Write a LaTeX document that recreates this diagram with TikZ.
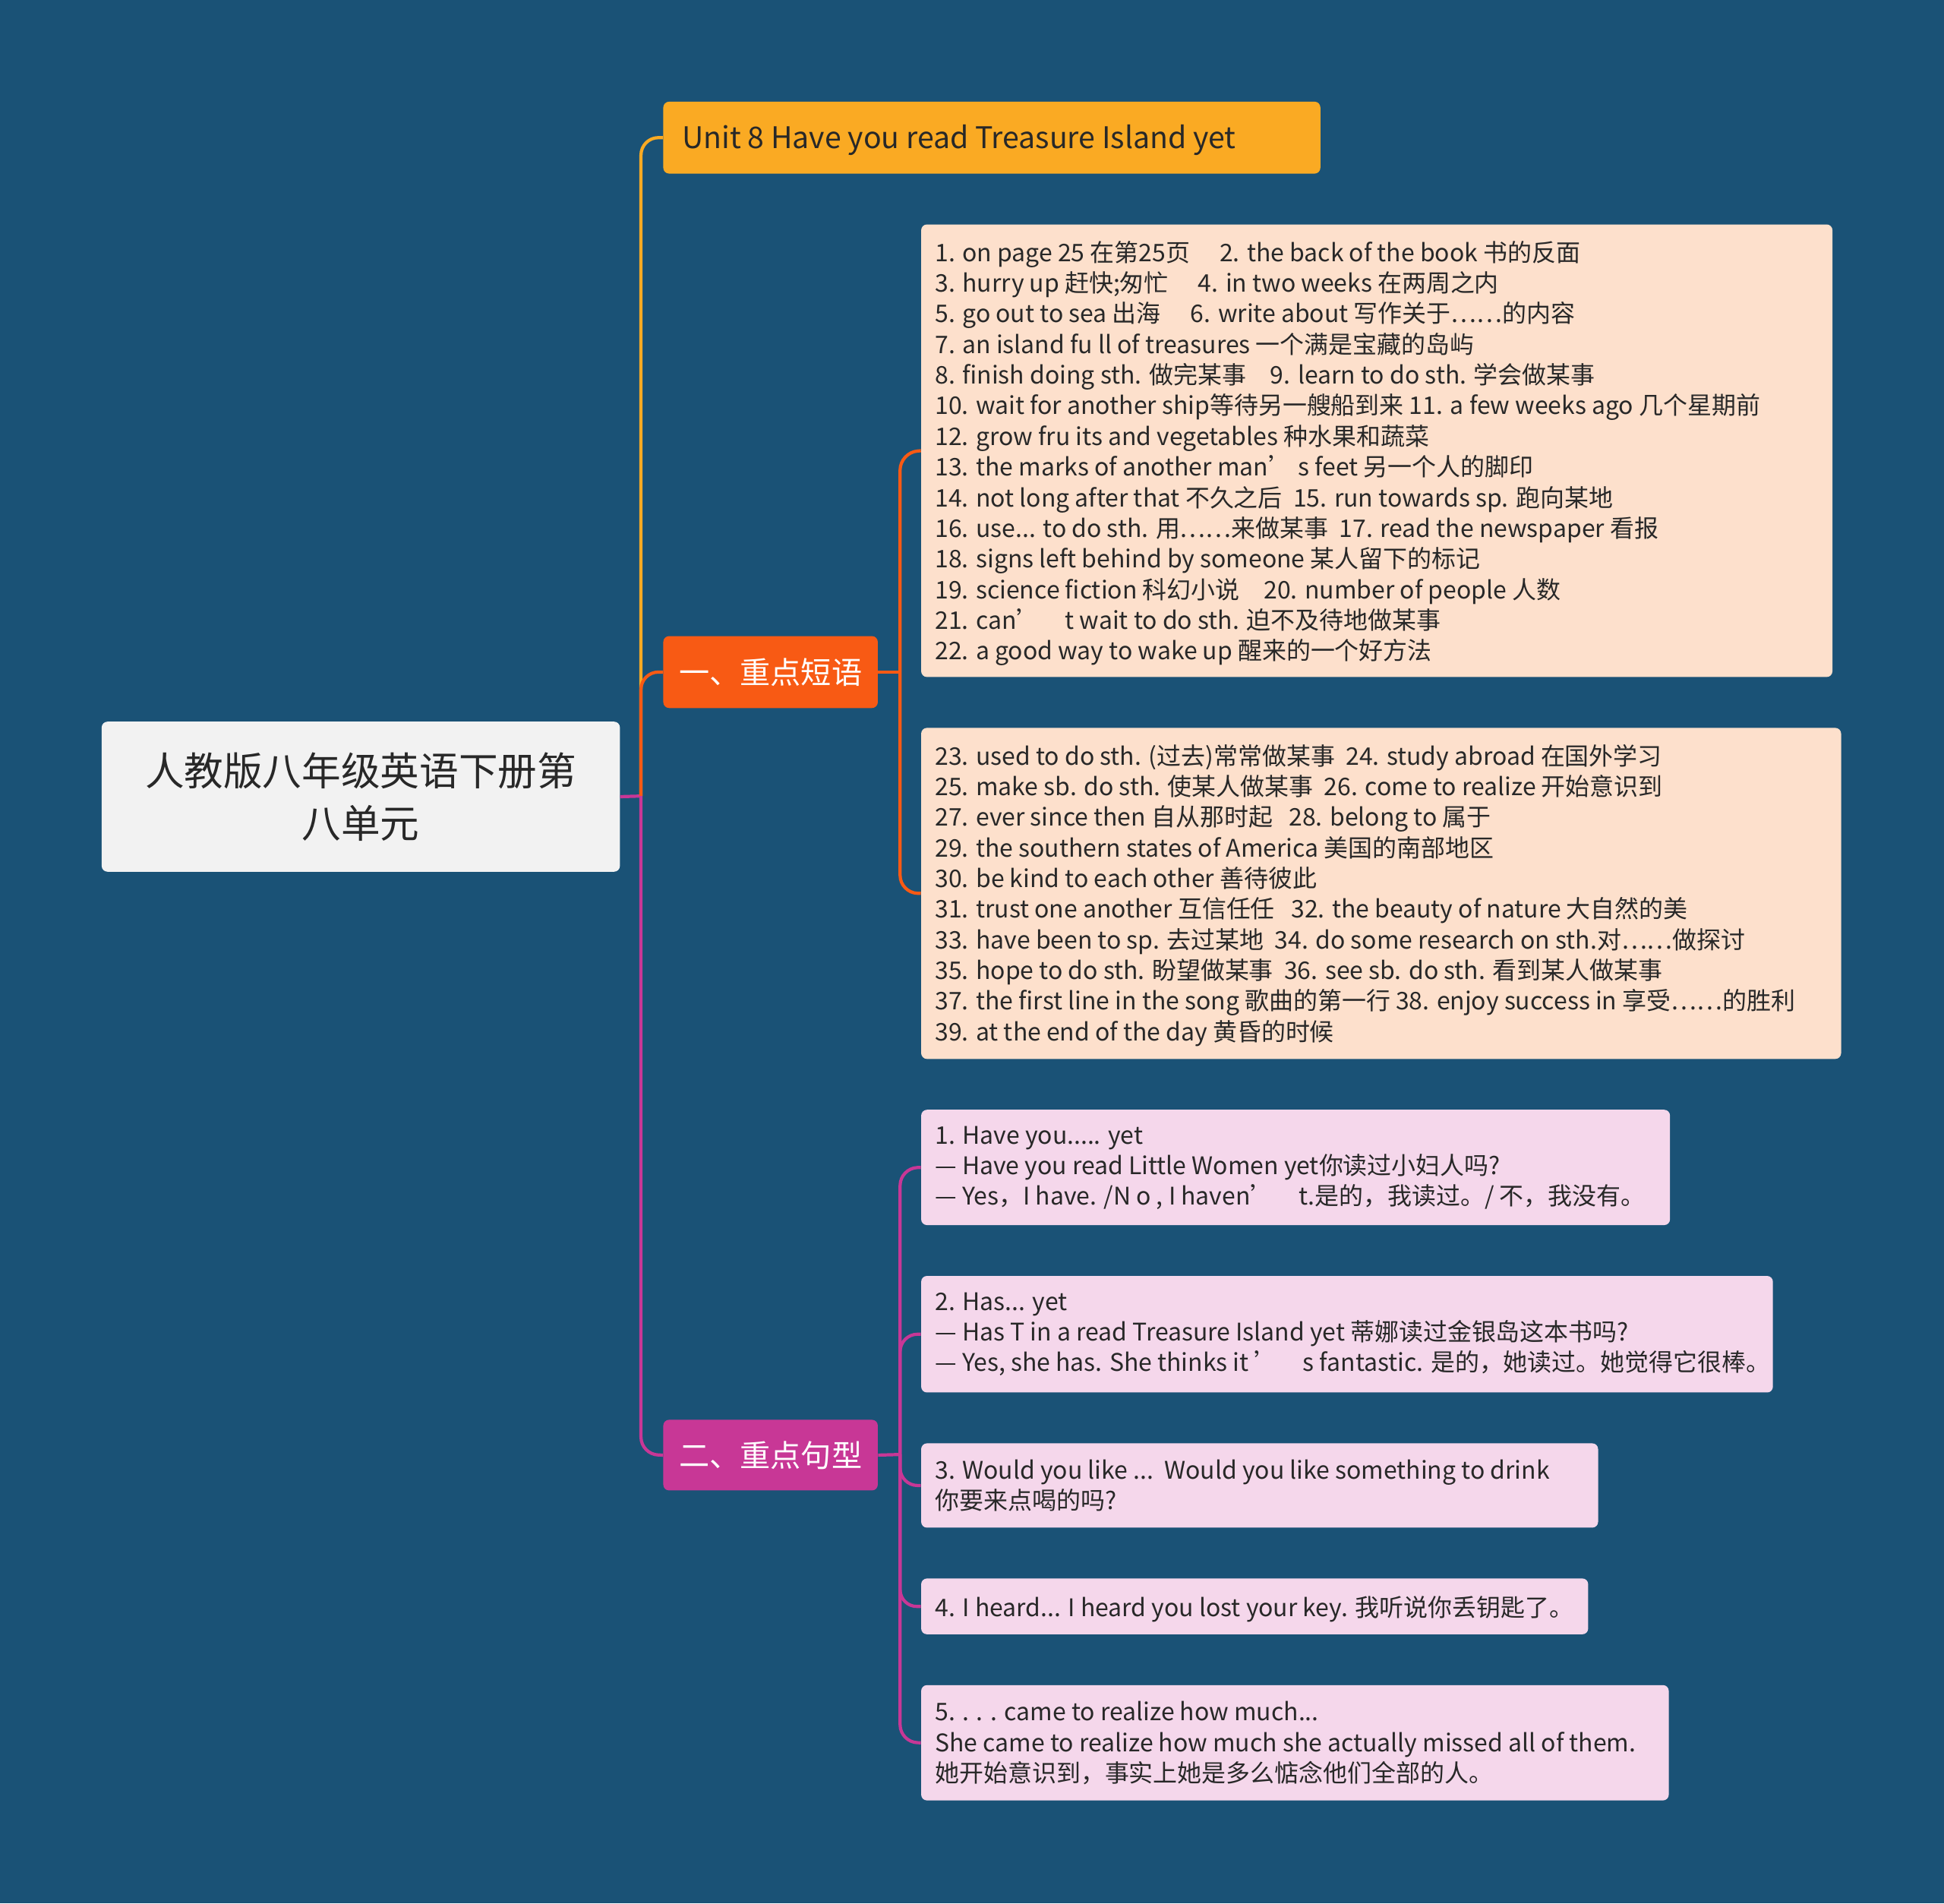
\documentclass[tikz,border=0pt]{standalone}
\usepackage{fontspec}
\setmainfont{Noto Sans CJK SC}
\usetikzlibrary{fit}
\definecolor{bg}{RGB}{26,82,118}
\definecolor{cT}{RGB}{250,170,35}
\definecolor{cA}{RGB}{248,90,20}
\definecolor{cB}{RGB}{200,55,150}
\definecolor{lA}{RGB}{253,224,204}
\definecolor{lB}{RGB}{245,215,235}
\definecolor{tx}{RGB}{40,40,40}
\tikzset{x=0.03cm,y=-0.03cm,
 bx/.style={inner sep=0,rounded corners=4pt},
 tt/.style={anchor=north west,inner sep=0,align=left,text=tx,font=\fontsize{16.7}{21.1}\selectfont},
 ln/.style={line width=2.2pt,rounded corners=12pt}}
\begin{document}
\begin{tikzpicture}
\fill[bg] (0,0) rectangle (1568,1535);
\useasboundingbox (0,0) rectangle (1568,1535);
% boxes
\node[bx,fill=black!5,fit={(82,582)(500,703)}] (root) {};
\node[align=center,text=tx,font=\fontsize{27}{36}\selectfont] at (root.center) {人教版八年级英语下册第\\八单元};
\node[bx,fill=cT,fit={(535,82)(1065,140)}] (ti) {};
\node[anchor=west,text=tx,font=\fontsize{20.5}{24}\selectfont] at (546,113) {Unit 8 Have you read Treasure Island yet};
\node[bx,fill=cA,fit={(535,513)(708,571)}] (b1) {};
\node[text=white,font=\fontsize{21}{24}\selectfont] at (b1.center) {一、重点短语};
\node[bx,fill=cB,fit={(535,1145)(708,1202)}] (b2) {};
\node[text=white,font=\fontsize{21}{24}\selectfont] at (b2.center) {二、重点句型};
\node[bx,fill=lA,fit={(743,181)(1478,546)}] (p1) {};
\node[bx,fill=lA,fit={(743,587)(1485,854)}] (p2) {};
\node[bx,fill=lB,fit={(743,895)(1347,988)}] (s1) {};
\node[bx,fill=lB,fit={(743,1029)(1430,1123)}] (s2) {};
\node[bx,fill=lB,fit={(743,1164)(1289,1232)}] (s3) {};
\node[bx,fill=lB,fit={(743,1273)(1281,1318)}] (s4) {};
\node[bx,fill=lB,fit={(743,1359)(1346,1452)}] (s5) {};
% texts
\node[tt] at (754,194) {1. on page 25 在第25页\quad\ 2. the back of the book 书的反面\\
3. hurry up 赶快;匆忙\quad\ 4. in two weeks 在两周之内\\
5. go out to sea 出海\quad\ 6. write about 写作关于……的内容\\
7. an island fu ll of treasures 一个满是宝藏的岛屿\\
8. finish doing sth. 做完某事\quad 9. learn to do sth. 学会做某事\\
10. wait for another ship等待另一艘船到来 11. a few weeks ago 几个星期前\\
12. grow fru its and vegetables 种水果和蔬菜\\
13. the marks of another man’\ s feet 另一个人的脚印\\
14. not long after that 不久之后\ \ 15. run towards sp. 跑向某地\\
16. use... to do sth. 用……来做某事\ \ 17. read the newspaper 看报\\
18. signs left behind by someone 某人留下的标记\\
19. science fiction 科幻小说\quad 20. number of people 人数\\
21. can’\quad t wait to do sth. 迫不及待地做某事\\
22. a good way to wake up 醒来的一个好方法};
\node[tt] at (754,600) {23. used to do sth. (过去)常常做某事\ \ 24. study abroad 在国外学习\\
25. make sb. do sth. 使某人做某事\ \ 26. come to realize 开始意识到\\
27. ever since then 自从那时起\ \ \ 28. belong to 属于\\
29. the southern states of America 美国的南部地区\\
30. be kind to each other 善待彼此\\
31. trust one another 互信任任\ \ \ 32. the beauty of nature 大自然的美\\
33. have been to sp. 去过某地\ \ 34. do some research on sth.对……做探讨\\
35. hope to do sth. 盼望做某事\ \ 36. see sb. do sth. 看到某人做某事\\
37. the first line in the song 歌曲的第一行 38. enjoy success in 享受……的胜利\\
39. at the end of the day 黄昏的时候};
\node[tt] at (754,908) {1. Have you..... yet\\— Have you read Little Women yet你读过小妇人吗?\\— Yes，I have. /N o , I haven’\quad t.是的，我读过。/ 不，我没有。};
\node[tt] at (754,1042) {2. Has... yet\\— Has T in a read Treasure Island yet 蒂娜读过金银岛这本书吗?\\— Yes, she has. She thinks it ’\quad s fantastic. 是的，她读过。她觉得它很棒。};
\node[tt] at (754,1177) {3. Would you like ...\ \ Would you like something to drink\\你要来点喝的吗?};
\node[tt] at (754,1287) {4. I heard... I heard you lost your key. 我听说你丢钥匙了。};
\node[tt] at (754,1372) {5. . . . came to realize how much...\\She came to realize how much she actually missed all of them.\\她开始意识到，事实上她是多么惦念他们全部的人。};
% connectors
\coordinate (tr) at (517,642);
\draw[cB,line width=2.2pt] (root.east) -- (tr);
\draw[cT,ln] (tr) -- (517,111) -- (ti.west);
\draw[cA,ln] (tr) -- (517,542) -- (b1.west);
\draw[cB,ln] (tr) -- (517,1173) -- (b2.west);
\coordinate (ja) at (726,542);
\draw[cA,line width=2.2pt] (b1.east) -- (ja);
\draw[cA,ln] (ja) -- (726,365) -- (p1.west);
\draw[cA,ln] (ja) -- (726,720) -- (p2.west);
\coordinate (jb) at (726,1173);
\draw[cB,line width=2.2pt] (b2.east) -- (jb);
\draw[cB,ln] (jb) -- (726,942) -- (s1.west);
\draw[cB,ln] (jb) -- (726,1076) -- (s2.west);
\draw[cB,ln] (jb) -- (726,1198) -- (s3.west);
\draw[cB,ln] (jb) -- (726,1296) -- (s4.west);
\draw[cB,ln] (jb) -- (726,1405) -- (s5.west);
\end{tikzpicture}
\end{document}
